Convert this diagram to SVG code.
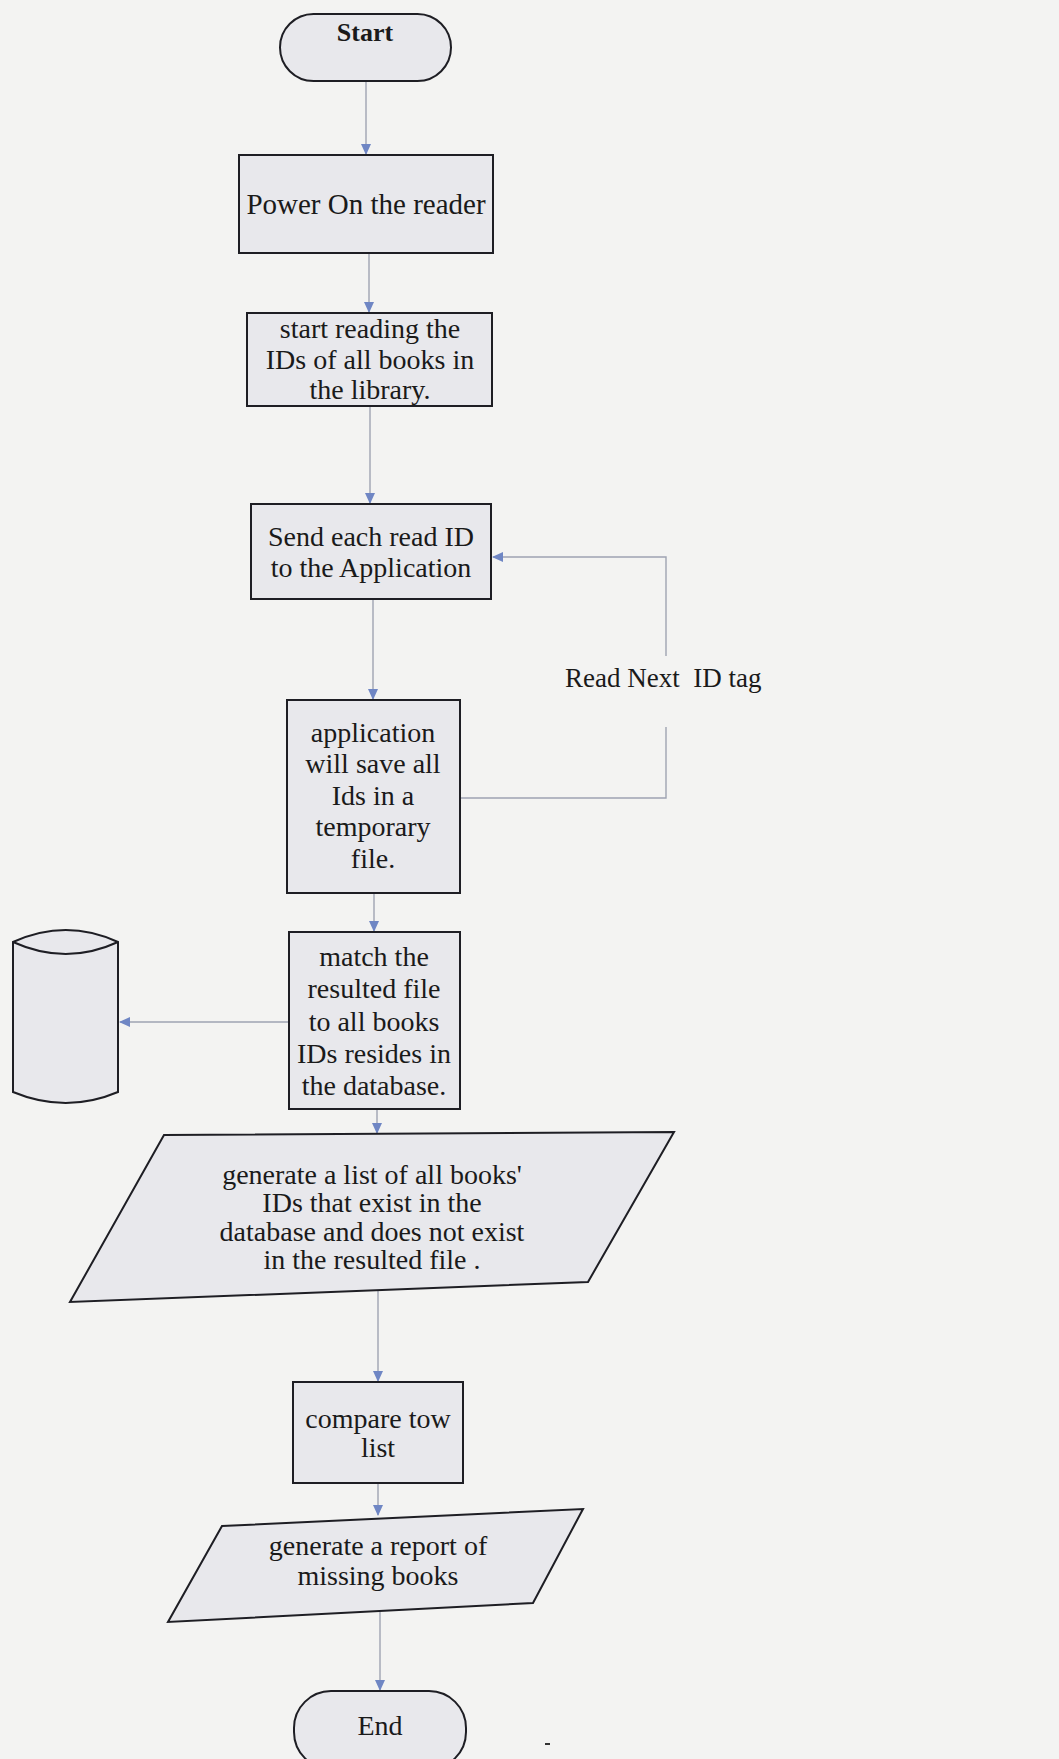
<svg xmlns="http://www.w3.org/2000/svg" width="1059" height="1759" viewBox="0 0 1059 1759">
  <defs>
    <style>
      .shape { fill: #e8e8ec; stroke: #1e1e24; stroke-width: 2; }
      .lbl { font-family: "Liberation Serif", "Times New Roman", serif; font-size: 28px; fill: #1a1a1a; text-anchor: middle; }
      .edge { fill: none; stroke: #9ea3b2; stroke-width: 1.4; }
    </style>
    <marker id="arrow" markerWidth="11" markerHeight="11" refX="10" refY="5.5" orient="auto" markerUnits="userSpaceOnUse">
      <path d="M0,0.5 L11,5.5 L0,10.5 Z" fill="#6f86c4"/>
    </marker>
  </defs>

  <!-- page -->
  <rect x="0" y="0" width="1059" height="1759" fill="#f3f3f2"/>

  <!-- connectors -->
  <g id="connectors">
    <path class="edge" d="M366,81 V154" marker-end="url(#arrow)"/>
    <path class="edge" d="M369,252 V312" marker-end="url(#arrow)"/>
    <path class="edge" d="M370,406 V503" marker-end="url(#arrow)"/>
    <path class="edge" d="M373,599 V699" marker-end="url(#arrow)"/>
    <path class="edge" d="M374,893 V931" marker-end="url(#arrow)"/>
    <path class="edge" d="M289,1022 H120" marker-end="url(#arrow)"/>
    <path class="edge" d="M377,1109 V1133" marker-end="url(#arrow)"/>
    <path class="edge" d="M378,1290 V1381" marker-end="url(#arrow)"/>
    <path class="edge" d="M378,1483 V1515" marker-end="url(#arrow)"/>
    <path class="edge" d="M380,1612 V1690" marker-end="url(#arrow)"/>
    <!-- loop back: next ID tag -->
    <path class="edge" d="M460,798 H666 V727"/>
    <path class="edge" d="M666,656 V557 H493" marker-end="url(#arrow)"/>
    <text x="565" y="687" style="font-family: 'Liberation Serif', 'Times New Roman', serif; font-size: 27px; fill: #1a1a1a; white-space: pre;">Read Next  ID tag</text>
  </g>

  <g id="start">
    <rect class="shape" x="280" y="14" width="171" height="67" rx="33.5"/>
    <text class="lbl" x="365" y="41" style="font-size: 26px; font-weight: bold;">Start</text>
  </g>

  <g id="power-on">
    <rect class="shape" x="239" y="155" width="254" height="98"/>
    <text class="lbl" x="366" y="214" style="font-size: 29px;">Power On the reader</text>
  </g>

  <g id="read-ids">
    <rect class="shape" x="247" y="313" width="245" height="93"/>
    <text class="lbl" x="370" y="338">start reading the</text>
    <text class="lbl" x="370" y="369">IDs of all books in</text>
    <text class="lbl" x="370" y="399">the library.</text>
  </g>

  <g id="send-id">
    <rect class="shape" x="251" y="504" width="240" height="95"/>
    <text class="lbl" x="371" y="546">Send each read ID</text>
    <text class="lbl" x="371" y="577">to the Application</text>
  </g>

  <g id="save-ids">
    <rect class="shape" x="287" y="700" width="173" height="193"/>
    <text class="lbl" x="373" y="742">application</text>
    <text class="lbl" x="373" y="773">will save all</text>
    <text class="lbl" x="373" y="805">Ids in a</text>
    <text class="lbl" x="373" y="836">temporary</text>
    <text class="lbl" x="373" y="868">file.</text>
  </g>

  <g id="match-file">
    <rect class="shape" x="289" y="932" width="171" height="177"/>
    <text class="lbl" x="374" y="966">match the</text>
    <text class="lbl" x="374" y="998">resulted file</text>
    <text class="lbl" x="374" y="1031">to all books</text>
    <text class="lbl" x="374" y="1063">IDs resides in</text>
    <text class="lbl" x="374" y="1095">the database.</text>
  </g>

  <g id="database">
    <path class="shape" d="M13,942 Q66,918 118,942 V1092 Q66,1114 13,1092 Z"/>
    <path fill="none" stroke="#1e1e24" stroke-width="2" d="M13,942 Q66,966 118,942"/>
  </g>

  <g id="missing-list">
    <polygon class="shape" points="164,1135 674,1132 588,1282 70,1302"/>
    <text class="lbl" x="372" y="1184">generate a list of all books'</text>
    <text class="lbl" x="372" y="1212">IDs that exist in the</text>
    <text class="lbl" x="372" y="1241">database and does not exist</text>
    <text class="lbl" x="372" y="1269">in the resulted file .</text>
  </g>

  <g id="compare">
    <rect class="shape" x="293" y="1382" width="170" height="101"/>
    <text class="lbl" x="378" y="1428">compare tow</text>
    <text class="lbl" x="378" y="1457">list</text>
  </g>

  <g id="report">
    <polygon class="shape" points="222,1526 583,1509 533,1603 168,1622"/>
    <text class="lbl" x="378" y="1555">generate a report of</text>
    <text class="lbl" x="378" y="1585">missing books</text>
  </g>

  <g id="end">
    <rect class="shape" x="294" y="1691" width="172" height="78" rx="37"/>
    <text class="lbl" x="380" y="1735">End</text>
  </g>

  <!-- small mark beside the end terminal -->
  <rect x="545" y="1743" width="5" height="2" fill="#333"/>
</svg>
